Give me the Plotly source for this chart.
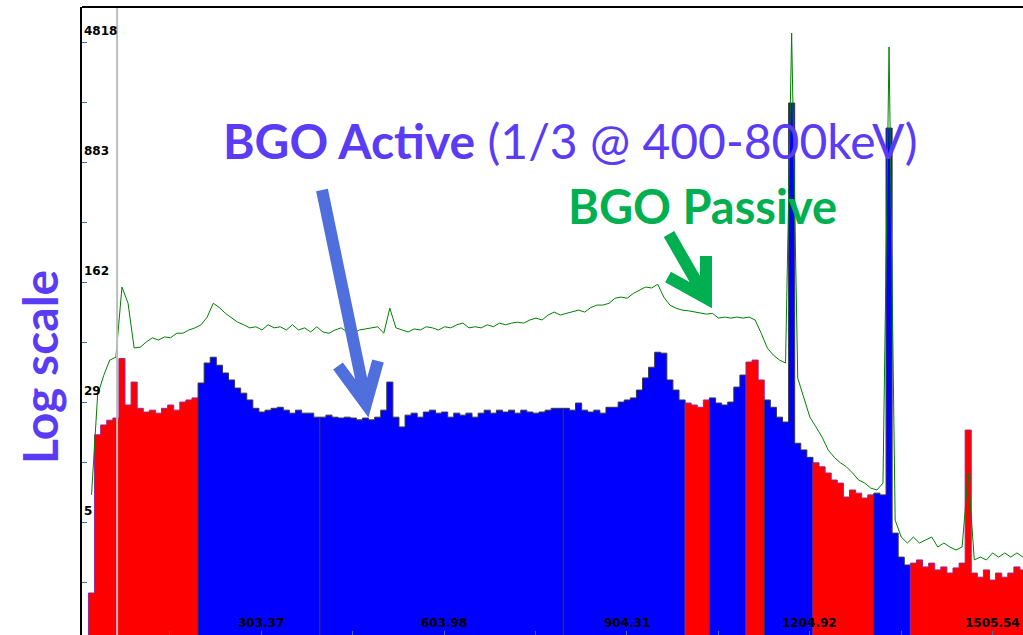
import numpy as np
import plotly.graph_objects as go

# ---------------- data ----------------
bin_width = 10                                  # keV per channel group
bin_low = np.arange(20, 1560, bin_width)         # lower channel edges (keV)
bin_center = bin_low + bin_width / 2

# BGO active (anti-Compton) spectrum, counts per channel
active_counts = [
    2, 18.7, 21.5, 23, 23.7, 55, 28.5, 39.4, 27.2, 25.8,
    26.5, 25.4, 27.2, 28.5, 26.5, 29.7, 30.6, 31.5, 38.9, 51.6,
    56, 50, 44.8, 40.6, 36.2, 33.7, 30.6, 27.2, 25.8, 26.5,
    27.2, 27.6, 26.5, 25.4, 26.5, 25.4, 25.4, 24.0, 24.0, 24.7,
    24.0, 23.7, 24.0, 23.7, 23.1, 23.7, 23.1, 24.0, 26.5, 39.4,
    24.0, 20.9, 24.7, 25.4, 24.0, 25.8, 26.5, 25.4, 25.8, 24.0,
    25.4, 24.7, 25.4, 24.0, 25.4, 26.5, 25.4, 26.5, 25.8, 26.5,
    25.4, 26.5, 25.8, 25.4, 25.8, 26.5, 27.2, 27.2, 27.2, 26.5,
    29.3, 26.5, 25.8, 26.5, 25.4, 27.6, 27.6, 29.7, 30.6, 31.5,
    35.2, 41.8, 48.6, 60.1, 59.3, 40.6, 35.2, 30.6, 29.3, 28.5,
    27.6, 30.6, 31.5, 29.3, 28.5, 29.7, 36.7, 43.5, 52.3, 53.8,
    40.6, 30.6, 27.6, 24.0, 22.4, 2036, 16.6, 15.1, 13.6, 12.6,
    11.9, 10.9, 9.87, 9.45, 7.76, 8.57, 8.2, 7.65, 8.0, 8.2,
    8.0, 1429, 4.66, 3.32, 2.97, 3.05, 3.19, 2.89, 3.05, 2.77,
    2.89, 2.65, 2.85, 3.05, 20.0, 2.65, 2.5, 2.77, 2.4, 2.65,
    2.5, 2.65, 2.89, 2.77,
]

# BGO passive spectrum, counts per channel
passive_counts = [
    8, 32.8, 43.3, 53.8, 56.0, 151, 120, 63.8, 64.5, 69.5,
    73.7, 71.4, 74.6, 73.7, 78.6, 78.6, 82.3, 84.8, 88.6, 98.8,
    120, 113, 104, 97.3, 91.9, 88.6, 84.8, 86.1, 82.3, 88.6,
    84.8, 86.1, 82.3, 88.6, 82.3, 84.8, 80.0, 86.1, 80.0, 78.6,
    82.3, 84.8, 80.0, 78.6, 82.3, 83.5, 84.8, 86.1, 78.6, 112,
    84.8, 82.3, 80.0, 83.5, 82.3, 86.1, 84.8, 82.3, 86.1, 84.8,
    88.6, 90.7, 84.8, 86.1, 84.8, 88.6, 86.1, 90.7, 88.6, 90.7,
    91.9, 90.7, 94.8, 97.3, 94.8, 101.7, 106, 101.7, 104, 106,
    109, 106, 113, 117, 117, 120, 129, 131, 129, 138,
    145, 151, 149, 157, 131, 117, 112, 109, 108, 106,
    104, 103, 104, 97.3, 98.8, 97.3, 98.8, 97.3, 98.8, 94.8,
    78.6, 63.8, 57.7, 53.8, 51.6, 5476, 41.6, 31.9, 24.0, 20.9,
    18.1, 15.1, 13.6, 12.6, 11.9, 10.9, 9.87, 9.45, 8.8, 8.57,
    9.45, 4495, 5.6, 4.41, 4.05, 4.41, 4.05, 4.23, 4.41, 3.83,
    4.05, 3.83, 3.67, 3.83, 10.9, 3.19, 3.32, 3.19, 3.52, 3.32,
    3.52, 3.32, 3.52, 3.32,
]

# regions of interest (keV edges) and their fill colours
roi_edges = [20, 200, 400, 800, 1000, 1040, 1100, 1130, 1210, 1310, 1370, 1560]
roi_kind = ["red", "blue", "blue", "blue", "red", "blue", "red", "blue", "red", "blue", "red"]

cursor_energy = 67

y_tick_vals = [5.453, 29.73, 162.1, 883.6, 4818]
y_tick_text = ["5", "29", "162", "883", "4818"]
x_tick_vals = [303.37, 603.98, 904.31, 1204.92, 1505.54]
x_tick_text = ["303.37", "603.98", "904.31", "1204.92", "1505.54"]

# ---------------- styling / layout helpers ----------------
W_FIG, H_FIG = 1023, 635
L, T = 82, 7
PW, PH = W_FIG - L, H_FIG - T
X_RANGE = [9.36, 1555.0]
Y_RANGE = [0.043, 3.898]

fill_col = {"red": "#FF0000", "blue": "#0000FF"}
edge_col = {"red": "#962896", "blue": "#3A3A3A"}
PURPLE = "#5B3CF6"
GREEN_TXT = "#00B050"
ARROW_BLUE = "#4E6FDC"


def pxx(x):
    return (x - L) / PW


def pxy(y):
    return (T + PH - y) / PH


fig = go.Figure()

act = np.array(active_counts, dtype=float)
floor = 0.1
for a, b, kind in zip(roi_edges[:-1], roi_edges[1:], roi_kind):
    m = (bin_low >= a) & (bin_low < b)
    xs = [a] + list(bin_low[m]) + [b]
    ys = [floor] + list(act[m]) + [floor]
    fig.add_trace(go.Scatter(
        x=xs, y=ys, mode="lines", line=dict(shape="hv", color=edge_col[kind], width=1),
        fill="toself", fillcolor=fill_col[kind], hoverinfo="skip", showlegend=False))

fig.add_trace(go.Scatter(
    x=bin_center, y=passive_counts, mode="lines",
    line=dict(color="#008000", width=1), showlegend=False, hoverinfo="skip"))

# ticks
y_minor = [np.sqrt(y_tick_vals[0] * 1.0)] + [np.sqrt(a * b) for a, b in zip(y_tick_vals[:-1], y_tick_vals[1:])]
step = x_tick_vals[1] - x_tick_vals[0]
x_minor = [x_tick_vals[0] - step / 2] + [(a + b) / 2 for a, b in zip(x_tick_vals[:-1], x_tick_vals[1:])]

fig.update_yaxes(type="log", range=Y_RANGE, tickvals=list(y_tick_vals) + y_minor,
                 showticklabels=False, ticks="inside", ticklen=5, tickwidth=1,
                 tickcolor="#3C6EB4", showgrid=False, zeroline=False,
                 showline=True, linecolor="black", linewidth=2)
fig.update_xaxes(range=X_RANGE, tickvals=list(x_tick_vals) + x_minor,
                 showticklabels=False, ticks="inside", ticklen=4, tickwidth=1,
                 tickcolor="#3C6EB4", showgrid=False, zeroline=False, showline=False)

ann = []
tick_font = dict(family="DejaVu Sans", size=12, color="black")
for v, t in zip(y_tick_vals, y_tick_text):
    ann.append(dict(x=0, xref="paper", y=np.log10(v), yref="y", text="<b>%s</b>" % t,
                    showarrow=False, xanchor="left", yanchor="middle", xshift=0, yshift=11,
                    font=tick_font))
for v, t in zip(x_tick_vals, x_tick_text):
    ann.append(dict(x=v, xref="x", y=0, yref="paper", text="<b>%s</b>" % t,
                    showarrow=False, xanchor="center", yanchor="bottom", yshift=3,
                    font=tick_font))

ann.append(dict(x=pxx(221), y=pxy(140), xref="paper", yref="paper", xanchor="left", yanchor="middle",
                text="<b>BGO Active</b> (1/3 @ 400-800keV)", showarrow=False,
                font=dict(family="Lato", size=48, color=PURPLE)))
ann.append(dict(x=pxx(566), y=pxy(206), xref="paper", yref="paper", xanchor="left", yanchor="middle",
                text="<b>BGO Passive</b>", showarrow=False,
                font=dict(family="Lato", size=47, color=GREEN_TXT)))
ann.append(dict(x=pxx(39), y=pxy(367), xref="paper", yref="paper", xanchor="center", yanchor="middle",
                text="<b>Log scale</b>", textangle=-90, showarrow=False,
                font=dict(family="Lato", size=48, color=PURPLE)))

shapes = []
# cursor line
shapes.append(dict(type="line", xref="x", yref="paper", x0=cursor_energy, x1=cursor_energy,
                   y0=0, y1=1, line=dict(color="#BDBDBD", width=2), layer="above"))
# top frame
shapes.append(dict(type="line", xref="paper", yref="paper", x0=0, x1=1, y0=1, y1=1,
                   line=dict(color="black", width=2)))


def path(points_list):
    s = ""
    for pts in points_list:
        s += "M%.5f,%.5f " % (pxx(pts[0][0]), pxy(pts[0][1]))
        for p in pts[1:]:
            s += "L%.5f,%.5f " % (pxx(p[0]), pxy(p[1]))
    return s.strip()


blue_arrow = path([[(322, 190), (366, 402)], [(338, 366), (366, 404), (378, 361)]])
green_arrow = path([[(669, 234), (704, 295)], [(668, 277), (706, 298), (706, 256)]])
shapes.append(dict(type="path", xref="paper", yref="paper", path=blue_arrow,
                   line=dict(color=ARROW_BLUE, width=12)))
shapes.append(dict(type="path", xref="paper", yref="paper", path=green_arrow,
                   line=dict(color=GREEN_TXT, width=12)))

fig.update_layout(width=W_FIG, height=H_FIG, margin=dict(l=L, r=0, t=T, b=0),
                  paper_bgcolor="white", plot_bgcolor="white", showlegend=False,
                  annotations=ann, shapes=shapes)

fig.write_html("out.html")
